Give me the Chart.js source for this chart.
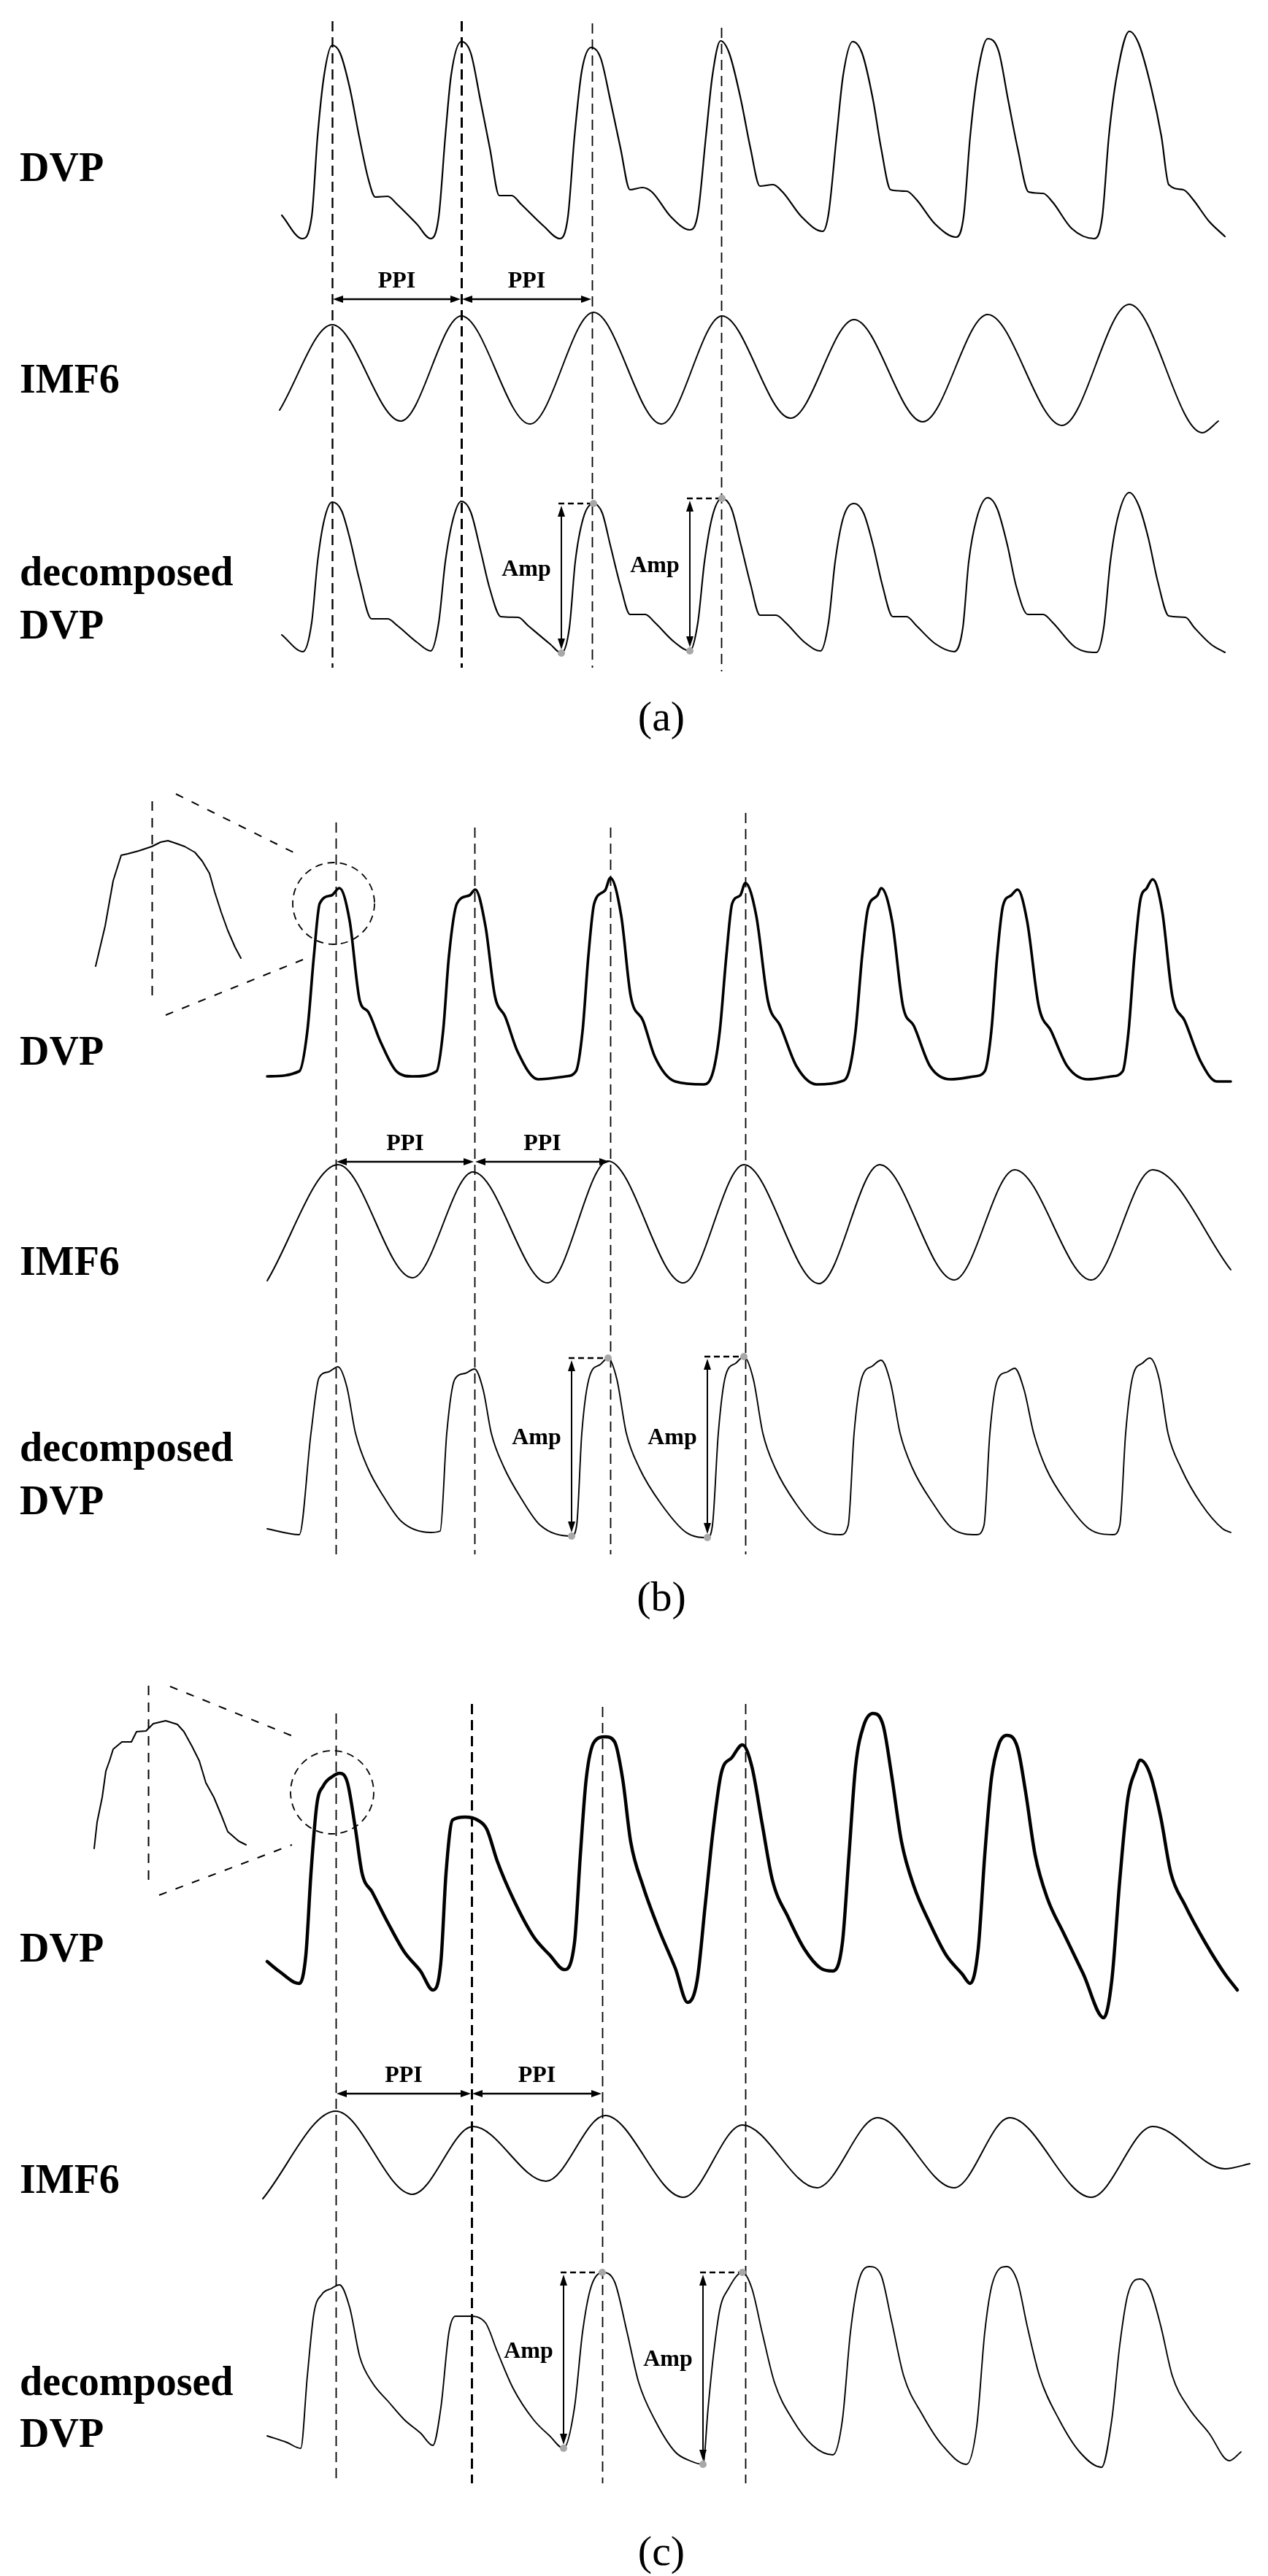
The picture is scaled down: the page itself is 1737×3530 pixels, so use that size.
<!DOCTYPE html>
<html><head><meta charset="utf-8">
<script src="https://cdn.jsdelivr.net/npm/chart.js@4.4.1/dist/chart.umd.min.js"></script>
<style>
html,body{margin:0;padding:0;background:#fff;}
body{width:1737px;height:3530px;position:relative;overflow:hidden;}
canvas{position:absolute;left:0;}
.lab{position:absolute;left:27px;font-family:'Liberation Serif','Times New Roman',serif;font-weight:bold;font-size:56px;line-height:56px;color:#000;white-space:nowrap;}
.cap{position:absolute;left:806px;width:200px;text-align:center;font-family:'Liberation Serif','Times New Roman',serif;font-size:58px;line-height:58px;color:#000;}
</style></head>
<body>
<canvas id="pa" width="1737" height="960" style="top:0px"></canvas>
<canvas id="pb" width="1737" height="1160" style="top:1000px"></canvas>
<canvas id="pc" width="1737" height="1180" style="top:2260px"></canvas>

<div class="lab" style="top:201px">DVP</div>
<div class="lab" style="top:491px">IMF6</div>
<div class="lab" style="top:755px">decomposed</div>
<div class="lab" style="top:828px">DVP</div>
<div class="cap" style="top:953px">(a)</div>

<div class="lab" style="top:1412px">DVP</div>
<div class="lab" style="top:1700px">IMF6</div>
<div class="lab" style="top:1955px">decomposed</div>
<div class="lab" style="top:2028px">DVP</div>
<div class="cap" style="top:2159px">(b)</div>

<div class="lab" style="top:2641px">DVP</div>
<div class="lab" style="top:2958px">IMF6</div>
<div class="lab" style="top:3235px">decomposed</div>
<div class="lab" style="top:3306px">DVP</div>
<div class="cap" style="top:3467px">(c)</div>

<script>
// ---------- DATA: [time (ms), amplitude (a.u.)] ----------
// Panel (a)
const dvpA = [[15,35],[155,3],[220,33],[260,143],[305,227],[360,268],[415,257],[480,210],[545,143],[610,83],[655,60],[740,61],[805,50],[940,23],[1035,3],
[1090,33],[1135,143],[1175,227],[1245,273],[1310,257],[1375,193],[1440,127],[1505,62],[1590,62],[1655,50],[1810,20],[1920,3],
[1975,33],[2020,143],[2070,233],[2135,265],[2200,250],[2265,193],[2335,127],[2400,70],[2485,73],[2550,67],[2680,33],[2810,15],
[2865,37],[2920,143],[2965,227],[3020,274],[3080,257],[3160,193],[3225,127],[3290,75],[3380,77],[3445,67],[3575,33],[3720,13],
[3760,37],[3815,143],[3860,227],[3925,273],[3990,257],[4065,193],[4120,127],[4185,70],[4295,68],[4360,57],[4490,23],[4635,5],
[4685,33],[4730,143],[4780,227],[4850,277],[4925,260],[4990,193],[5055,127],[5130,67],[5230,65],[5295,53],[5425,17],[5580,3],
[5635,33],[5680,143],[5735,227],[5820,287],[5885,270],[5970,210],[6040,143],[6090,77],[6190,70],[6255,57],[6365,27],[6475,6]];
const imfA = [[0,-52],[360,65],[830,-67],[1245,77],[1715,-71],[2150,82],[2615,-71],[3030,77],[3500,-63],[3935,72],[4405,-68],[4850,79],[5360,-73],[5820,93],[6320,-83],[6430,-67]];
const decA = [[15,30],[160,7],[220,47],[260,130],[305,187],[360,212],[425,200],[480,163],[545,107],[630,52],[740,52],[805,43],[940,20],[1035,8],
[1090,47],[1135,130],[1190,190],[1245,213],[1310,198],[1375,147],[1440,93],[1515,55],[1635,54],[1700,43],[1855,17],[1930,5],
[1985,40],[2025,130],[2080,190],[2150,210],[2210,197],[2265,153],[2335,97],[2400,58],[2505,58],[2570,47],[2705,20],[2810,8],
[2865,47],[2910,130],[2965,193],[3030,217],[3095,203],[3160,153],[3225,100],[3290,57],[3400,57],[3465,47],[3595,20],[3705,8],
[3760,47],[3805,130],[3860,190],[3935,210],[4000,197],[4065,153],[4130,97],[4200,55],[4295,55],[4360,43],[4490,18],[4620,7],
[4680,40],[4720,130],[4775,190],[4850,218],[4915,203],[4985,153],[5045,97],[5125,58],[5230,58],[5295,47],[5450,13],[5595,6],
[5645,40],[5690,130],[5740,190],[5820,225],[5885,207],[5950,163],[6015,103],[6090,56],[6205,54],[6265,40],[6380,17],[6475,6]];
const peaksA = [360, 1245, 2140, 3025];
const ampA = [[1930,5,2150,210],[2810,8,3030,217]];

// Panel (b)
const dvpB = [[0,15],[220,22],[275,77],[320,180],[360,252],[440,263],[495,273],[565,228],[635,118],[690,104],[775,63],[885,22],[995,15],
[1160,22],[1205,77],[1245,180],[1300,252],[1385,263],[1425,271],[1495,221],[1560,125],[1630,97],[1715,49],[1855,11],[2045,15],
[2115,22],[2160,77],[2200,180],[2240,252],[2315,270],[2350,287],[2425,235],[2490,125],[2575,91],[2655,42],[2795,8],[2990,4],
[3055,22],[3100,77],[3145,180],[3185,252],[3240,263],[3275,280],[3350,235],[3430,118],[3515,84],[3625,29],[3765,4],[3930,8],
[3985,22],[4030,77],[4075,180],[4115,245],[4180,263],[4205,273],[4280,228],[4355,111],[4430,84],[4540,29],[4680,11],[4845,15],
[4915,22],[4960,77],[5000,180],[5040,249],[5095,263],[5140,271],[5205,228],[5285,111],[5370,77],[5480,29],[5620,11],[5785,15],
[5860,22],[5900,77],[5940,180],[5980,256],[6025,273],[6065,285],[6130,242],[6200,125],[6285,91],[6395,35],[6505,8],[6600,8]];
const imfB = [[0,-80],[485,79],[995,-76],[1410,69],[1920,-83],[2335,84],[2850,-83],[3265,79],[3780,-84],[4195,79],[4705,-79],[5120,72],[5645,-79],[6065,72],[6600,-65]];
const decB = [[0,15],[220,7],[300,146],[355,222],[420,230],[485,237],[545,210],[605,146],[690,98],[795,60],[920,25],[1120,10],
[1185,12],[1230,146],[1285,220],[1355,228],[1420,234],[1480,205],[1535,146],[1620,100],[1745,55],[1870,20],[2085,5],
[2120,20],[2155,146],[2210,225],[2280,240],[2335,249],[2395,220],[2460,146],[2550,98],[2695,50],[2870,10],[3015,3],
[3050,20],[3090,146],[3140,225],[3210,242],[3265,251],[3330,220],[3395,146],[3480,98],[3620,50],[3770,15],[3930,7],
[3980,20],[4020,146],[4070,220],[4145,238],[4205,246],[4270,215],[4335,146],[4420,98],[4560,50],[4695,15],[4860,7],
[4910,20],[4950,146],[5000,218],[5070,230],[5120,235],[5185,205],[5250,146],[5335,98],[5480,50],[5630,15],[5795,7],
[5840,20],[5880,146],[5930,225],[5995,242],[6045,249],[6110,220],[6170,146],[6260,98],[6395,50],[6545,15],[6600,10]];
const insetB = [[0,6],[26,61],[48,123],[70,158],[88,160],[118,164],[154,170],[178,176],[198,178],[222,174],[244,170],[272,162],[292,150],[312,133],[326,108],[344,80],[362,55],[382,32],[398,17]];
const peaksB = [470, 1420, 2350, 3275];
const ampB = [[2085,5,2335,249],[3015,3,3265,251]];

// Panel (c)
const dvpC = [[0,82],[80,69],[220,52],[265,91],[300,203],[340,297],[385,323],[450,336],[495,340],[550,327],[605,263],[650,203],[720,177],[830,134],[940,95],[1050,69],[1135,43],
[1190,82],[1225,203],[1270,276],[1355,280],[1440,276],[1505,263],[1575,220],[1685,168],[1825,116],[1935,91],[2035,71],
[2105,108],[2145,228],[2185,332],[2240,383],[2315,390],[2380,383],[2435,332],[2490,246],[2575,185],[2685,125],[2795,73],[2880,26],
[2945,56],[3000,159],[3055,263],[3110,340],[3185,362],[3255,379],[3320,349],[3390,271],[3460,194],[3570,142],[3680,99],[3790,73],[3875,69],
[3940,108],[3985,228],[4030,349],[4085,405],[4150,422],[4220,405],[4275,340],[4345,246],[4430,185],[4540,134],[4650,91],[4760,65],[4815,52],
[4870,99],[4915,228],[4960,332],[5010,379],[5065,392],[5140,375],[5195,314],[5260,228],[5345,168],[5455,121],[5590,65],[5730,5],
[5785,56],[5840,194],[5895,306],[5950,345],[5980,358],[6045,340],[6120,280],[6190,203],[6285,160],[6425,108],[6560,65],[6645,43]];
const imfC = [[-30,-63],[470,57],[995,-57],[1410,36],[1910,-39],[2315,51],[2850,-61],[3255,38],[3765,-48],[4180,48],[4705,-48],[5085,48],[5645,-61],[6065,36],[6560,-22],[6730,-15]];
const decC = [[0,52],[135,43],[230,35],[275,134],[320,220],[375,246],[440,254],[495,259],[565,228],[635,160],[720,125],[830,99],[940,74],[1050,56],[1135,39],
[1190,91],[1245,194],[1290,216],[1385,216],[1495,207],[1575,168],[1685,117],[1825,74],[1935,52],[2030,35],
[2105,91],[2160,194],[2215,254],[2295,276],[2380,263],[2465,194],[2545,125],[2655,74],[2795,30],[2895,18],[2985,13],
[3020,90],[3055,160],[3100,225],[3160,254],[3255,276],[3320,254],[3390,194],[3475,125],[3600,74],[3735,39],[3875,26],
[3940,74],[3995,194],[4050,263],[4125,284],[4205,272],[4275,211],[4360,134],[4485,82],[4625,39],[4790,13],
[4860,65],[4915,194],[4970,263],[5065,284],[5140,263],[5205,203],[5290,134],[5425,74],[5565,30],[5715,9],
[5785,74],[5840,177],[5895,246],[5980,267],[6045,254],[6120,203],[6200,134],[6310,91],[6450,56],[6590,18],[6670,30]];
const insetC = [[0,7],[8,43],[22,77],[32,113],[42,127],[52,143],[76,153],[102,153],[116,167],[142,168],[162,178],[196,182],[228,177],[246,167],[268,147],[288,127],[306,97],[328,77],[348,53],[366,30],[396,17],[416,12]];
const peaksC = [470, 1400, 2295, 3275];
const ampC = [[2030,35,2295,276],[2985,13,3255,276]];

const labelPPI = 'PPI';
const labelAmp = 'Amp';

// ---------- drawing helpers ----------
function arrowHead(ctx, x, y, dx, dy, len, half) {
  ctx.beginPath();
  ctx.moveTo(x, y);
  ctx.lineTo(x - dx*len - dy*half, y - dy*len + dx*half);
  ctx.lineTo(x - dx*len + dy*half, y - dy*len - dx*half);
  ctx.closePath(); ctx.fill();
}

const annot = {
  id: 'annot',
  afterDatasetsDraw(chart, args, o) {
    const ctx = chart.ctx, sx = chart.scales.x, T = o.top;
    ctx.save();
    ctx.strokeStyle = '#000'; ctx.fillStyle = '#000';
    // dashed peak lines
    o.peaks.forEach((t, i) => {
      const px = Math.round(sx.getPixelForValue(t)) + 0.5;
      ctx.setLineDash([14, 8]); ctx.lineWidth = o.vWidth[i];
      ctx.beginPath(); ctx.moveTo(px, o.vTop[i] - T); ctx.lineTo(px, o.vBot[i] - T); ctx.stroke();
    });
    ctx.setLineDash([]);
    // PPI arrows
    const py = o.ppiY - T;
    ctx.font = 'bold 32px "Liberation Serif", "Times New Roman", serif';
    ctx.textAlign = 'center';
    for (let i = 0; i < 2; i++) {
      const x1 = sx.getPixelForValue(o.peaks[i]), x2 = sx.getPixelForValue(o.peaks[i+1]);
      ctx.lineWidth = 2.5;
      ctx.beginPath(); ctx.moveTo(x1 + 10, py); ctx.lineTo(x2 - 10, py); ctx.stroke();
      arrowHead(ctx, x1 + 1, py, -1, 0, 14, 5);
      arrowHead(ctx, x2 - 1, py, 1, 0, 14, 5);
      ctx.textBaseline = 'alphabetic';
      ctx.fillText(labelPPI, (x1 + x2) / 2, py - 16);
    }
    // Amp arrows
    const yc = chart.scales.yC;
    o.amp.forEach(a => {
      const xa = sx.getPixelForValue(a[0]), y0 = yc.getPixelForValue(a[1]);
      const xp = sx.getPixelForValue(a[2]), y1 = yc.getPixelForValue(a[3]);
      ctx.strokeStyle = '#000'; ctx.fillStyle = '#000';
      ctx.lineWidth = 2;
      ctx.beginPath(); ctx.moveTo(xa, y0 - 10); ctx.lineTo(xa, y1 + 10); ctx.stroke();
      arrowHead(ctx, xa, y1 + 3, 0, -1, 15, 5);
      arrowHead(ctx, xa, y0 - 5, 0, 1, 15, 5);
      ctx.setLineDash([8, 5]); ctx.lineWidth = 2.5;
      ctx.beginPath(); ctx.moveTo(xa - 4, y1); ctx.lineTo(xp, y1); ctx.stroke();
      ctx.setLineDash([]);
      ctx.fillStyle = '#a8a8a8';
      ctx.beginPath(); ctx.arc(xa, y0, 5, 0, 2*Math.PI); ctx.fill();
      ctx.beginPath(); ctx.arc(xp, y1, 5, 0, 2*Math.PI); ctx.fill();
      ctx.fillStyle = '#000';
      ctx.textBaseline = 'middle';
      ctx.fillText(labelAmp, xa - 48, (y0 + y1) / 2 - 12);
    });
    // inset callout
    if (o.circle) {
      const yd = chart.scales.yD, xi = chart.scales.xi, yi = chart.scales.yi;
      const cx = sx.getPixelForValue(o.circle[0]), cy = yd.getPixelForValue(o.circle[1]);
      ctx.setLineDash([10, 7]); ctx.lineWidth = 1.8;
      ctx.beginPath(); ctx.arc(cx, cy, o.circle[2], 0, 2*Math.PI); ctx.stroke();
      ctx.setLineDash([11, 13]); ctx.lineWidth = 2;
      o.callout.forEach(l => {
        ctx.beginPath();
        ctx.moveTo(xi.getPixelForValue(l[0]), yi.getPixelForValue(l[1]));
        ctx.lineTo(xi.getPixelForValue(l[2]), yi.getPixelForValue(l[3]));
        ctx.stroke();
      });
      ctx.setLineDash([13, 10]); ctx.lineWidth = 2;
      const v = o.insetPeak;
      const vx = Math.round(xi.getPixelForValue(v[0])) + 0.5;
      ctx.beginPath(); ctx.moveTo(vx, yi.getPixelForValue(v[1])); ctx.lineTo(vx, yi.getPixelForValue(v[2])); ctx.stroke();
    }
    ctx.restore();
  }
};

function ds(pts, yAxisID, w, extra) {
  return Object.assign({
    data: pts.map(p => ({x: p[0], y: p[1]})),
    xAxisID: 'x', yAxisID: yAxisID,
    borderColor: '#000', borderWidth: w, pointRadius: 0, fill: false,
    cubicInterpolationMode: 'monotone', clip: false, borderJoinStyle: 'round', borderCapStyle: 'round'
  }, extra || {});
}

function axis(r) { return {type: 'linear', display: false, min: r[0], max: r[1], bounds: 'data', grace: 0}; }

function makePanel(id, p) {
  const scales = {x: axis(p.x), yD: axis(p.yD), yI: axis(p.yI), yC: axis(p.yC)};
  if (p.xi) { scales.xi = axis(p.xi); scales.yi = axis(p.yi); }
  const datasets = [
    ds(p.dvp, 'yD', p.dvpW),
    ds(p.imf, 'yI', 2),
    ds(p.dec, 'yC', p.decW)
  ];
  if (p.inset) datasets.push(ds(p.inset, 'yi', 2, {xAxisID: 'xi', cubicInterpolationMode: 'default', tension: 0}));
  new Chart(document.getElementById(id), {
    type: 'line',
    data: {datasets},
    options: {
      responsive: false, animation: false, devicePixelRatio: 1, events: [],
      layout: {padding: 0},
      scales,
      plugins: {legend: {display: false}, title: {display: false}, tooltip: {enabled: false},
        annot: p.annot}
    },
    plugins: [annot]
  });
}

makePanel('pa', {
  x: [-1915, 6770], yD: [-630, 330], yI: [-450, 510], yC: [-60, 900],
  dvp: dvpA, imf: imfA, dec: decA, dvpW: 2.2, decW: 2.1,
  annot: {top: 0, peaks: peaksA, vTop: [29, 29, 32, 38], vBot: [915, 915, 915, 920], vWidth: [2.4, 3, 1.8, 1.8],
    ppiY: 410, amp: ampA}
});

makePanel('pb', {
  x: [-1830, 6855], yD: [-670, 490], yI: [-485, 675], yC: [-50, 1110],
  xi: [-262, 3212], yi: [-830, 330],
  dvp: dvpB, imf: imfB, dec: decB, inset: insetB, dvpW: 3.6, decW: 1.9,
  annot: {top: 1000, peaks: peaksB, vTop: [1127, 1134, 1134, 1114], vBot: [2130, 2130, 2130, 2130], vWidth: [1.8, 1.8, 1.8, 1.8],
    ppiY: 1592, amp: ampB, circle: [455, 252, 56],
    callout: [[220, 242, 562, 157], [192, -61, 568, 15]], insetPeak: [154, 232, -35]}
});

makePanel('pc', {
  x: [-1830, 6855], yD: [-670, 510], yI: [-490, 690], yC: [-50, 1130],
  xi: [-258, 3216], yi: [-900, 280],
  dvp: dvpC, imf: imfC, dec: decC, inset: insetC, dvpW: 4.5, decW: 1.9,
  annot: {top: 2260, peaks: peaksC, vTop: [2348, 2335, 2339, 2335], vBot: [3403, 3403, 3403, 3403], vWidth: [1.8, 3, 1.8, 1.8],
    ppiY: 2869, amp: ampC, circle: [445, 314, 57],
    callout: [[208, 229, 558, 158], [178, -57, 542, 12]], insetPeak: [148, 230, -37]}
});
</script>
</body></html>
